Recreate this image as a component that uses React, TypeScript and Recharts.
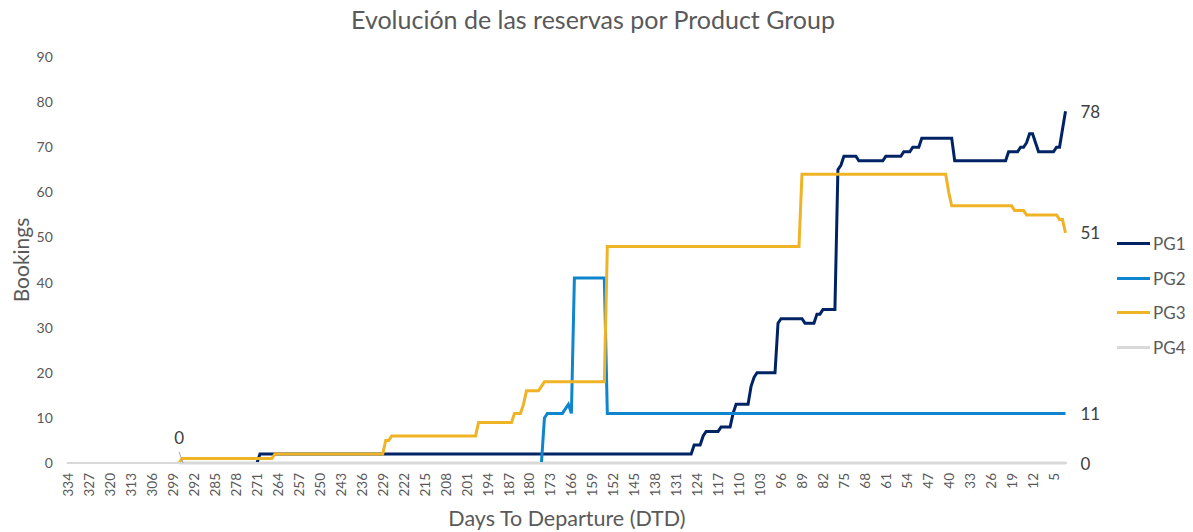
import { LineChart, Line, XAxis, YAxis, Legend, Label } from "recharts";

const FIRST_DTD = 334;
const LAST_DTD = 1;

// readings from the picture: [days to departure, bookings], each value held until the next reading
const PG1_STEPS = [
  [271, 0], [270, 2], [125, 4], [122, 6], [121, 7], [116, 8], [112, 11], [111, 13],
  [106, 17], [105, 19], [104, 20], [97, 31], [96, 32], [88, 31], [84, 33], [82, 34],
  [77, 65], [76, 66], [75, 68], [70, 67], [61, 68], [55, 69], [52, 70], [49, 72],
  [38, 67], [20, 69], [16, 70], [14, 71], [13, 73], [11, 71], [10, 69], [4, 70],
  [2, 74], [1, 78],
];
const PG2_STEPS = [
  [176, 0], [175, 10], [174, 11], [168, 12], [167, 13], [166, 11], [165, 41], [154, 11],
];
const PG3_STEPS = [
  [297, 0], [296, 1], [265, 2], [228, 5], [226, 6], [197, 9], [185, 11], [182, 13],
  [181, 16], [176, 17], [175, 18], [154, 48], [89, 64], [40, 60], [39, 57], [18, 56],
  [14, 55], [3, 54], [1, 51],
];
const PG4_STEPS = [[297, 0]];

const Y_TICKS = [0, 10, 20, 30, 40, 50, 60, 70, 80, 90];

const SERIES = [
  { key: "PG1", color: "#002366", steps: PG1_STEPS },
  { key: "PG2", color: "#0E85CD", steps: PG2_STEPS },
  { key: "PG3", color: "#EFB326", steps: PG3_STEPS },
  { key: "PG4", color: "#D9D9D9", steps: PG4_STEPS },
];

const DTD: number[] = [];
for (let d = FIRST_DTD; d >= LAST_DTD; d--) DTD.push(d);

function valueAt(steps: number[][], d: number) {
  let v: number | null = null;
  for (const [sd, sv] of steps) {
    if (sd >= d) v = sv;
    else break;
  }
  return v;
}

const data = DTD.map((d) => {
  const row: any = { dtd: d };
  SERIES.forEach((s) => (row[s.key] = valueAt(s.steps, d)));
  return row;
});

const FONT = "Lato, 'Open Sans', sans-serif";
const TEXT = "#595959";
const LAST = DTD.length - 1;
const PG4_FIRST = DTD.indexOf(297);

const DtdTick = ({ x, y, payload }: any) => (
  <text
    x={x}
    y={y}
    transform={`rotate(-90 ${x} ${y})`}
    textAnchor="end"
    dominantBaseline="central"
    fontSize={13.5}
    fill={TEXT}
    fontFamily={FONT}
  >
    {payload.value}
  </text>
);

const endLabel = (withFirst: boolean) => (props: any) => {
  const { x, y, index, value } = props;
  if (x == null || y == null || value == null) return null;
  if (index === LAST) {
    return (
      <text x={x + 15} y={y} dominantBaseline="central" fontSize={17} fill="#404040" fontFamily={FONT}>
        {value}
      </text>
    );
  }
  if (withFirst && index === PG4_FIRST) {
    return (
      <g>
        <line x1={x} y1={y - 11} x2={x + 4} y2={y} stroke="#a6a6a6" strokeWidth={1} />
        <text x={x} y={y - 26} textAnchor="middle" dominantBaseline="central" fontSize={17} fill="#404040" fontFamily={FONT}>
          {value}
        </text>
      </g>
    );
  }
  return null;
};

const LegendBox = () => (
  <div style={{ fontFamily: FONT, fontSize: 17, color: TEXT }}>
    {SERIES.map((s) => (
      <div key={s.key} style={{ display: "flex", alignItems: "center", height: 34.7 }}>
        <span style={{ display: "inline-block", width: 33, height: 3, background: s.color, marginRight: 3 }} />
        <span>{s.key}</span>
      </div>
    ))}
  </div>
);

export default function App() {
  return (
    <div style={{ position: "absolute", left: 0, top: 0, width: 1193, height: 532, background: "#fff" }}>
      <div
        style={{
          position: "absolute",
          top: 4,
          left: 0,
          width: 1186,
          textAlign: "center",
          fontFamily: FONT,
          fontSize: 25,
          color: TEXT,
        }}
      >
        Evolución de las reservas por Product Group
      </div>
      <LineChart width={1193} height={532} data={data} margin={{ top: 57, right: 126, bottom: 0, left: 0 }}>
        <XAxis
          dataKey="dtd"
          interval={6}
          tickLine={false}
          tickMargin={4}
          axisLine={{ stroke: "#d9d9d9", strokeWidth: 2 }}
          height={69}
          padding={{ left: 1.5, right: 1.5 }}
          tick={<DtdTick />}
        >
          <Label
            content={({ viewBox }: any) => (
              <text
                x={viewBox.x + viewBox.width / 2}
                y={viewBox.y + 55}
                textAnchor="middle"
                dominantBaseline="central"
                fontSize={21.5}
                fill={TEXT}
                fontFamily={FONT}
              >
                Days To Departure (DTD)
              </text>
            )}
          />
        </XAxis>
        <YAxis
          domain={[0, 90]}
          ticks={Y_TICKS}
          width={66.8}
          axisLine={false}
          tickLine={false}
          tickMargin={8}
          tick={{ fontSize: 14, fill: TEXT, fontFamily: FONT }}
        >
          <Label
            content={({ viewBox }: any) => {
              const cx = 20;
              const cy = viewBox.y + viewBox.height / 2;
              return (
                <text
                  x={cx}
                  y={cy}
                  transform={`rotate(-90 ${cx} ${cy})`}
                  textAnchor="middle"
                  dominantBaseline="central"
                  fontSize={21}
                  fill={TEXT}
                  fontFamily={FONT}
                >
                  Bookings
                </text>
              );
            }}
          />
        </YAxis>
        <Legend
          layout="vertical"
          align="center"
          verticalAlign="middle"
          content={<LegendBox />}
          wrapperStyle={{ left: 1117, top: 226, width: 70 }}
        />
        {[SERIES[3], SERIES[0], SERIES[1], SERIES[2]].map((s) => (
          <Line
            key={s.key}
            type="linear"
            dataKey={s.key}
            stroke={s.color}
            strokeWidth={3}
            dot={false}
            activeDot={false}
            isAnimationActive={false}
            label={endLabel(s.key === "PG4")}
          />
        ))}
      </LineChart>
    </div>
  );
}
